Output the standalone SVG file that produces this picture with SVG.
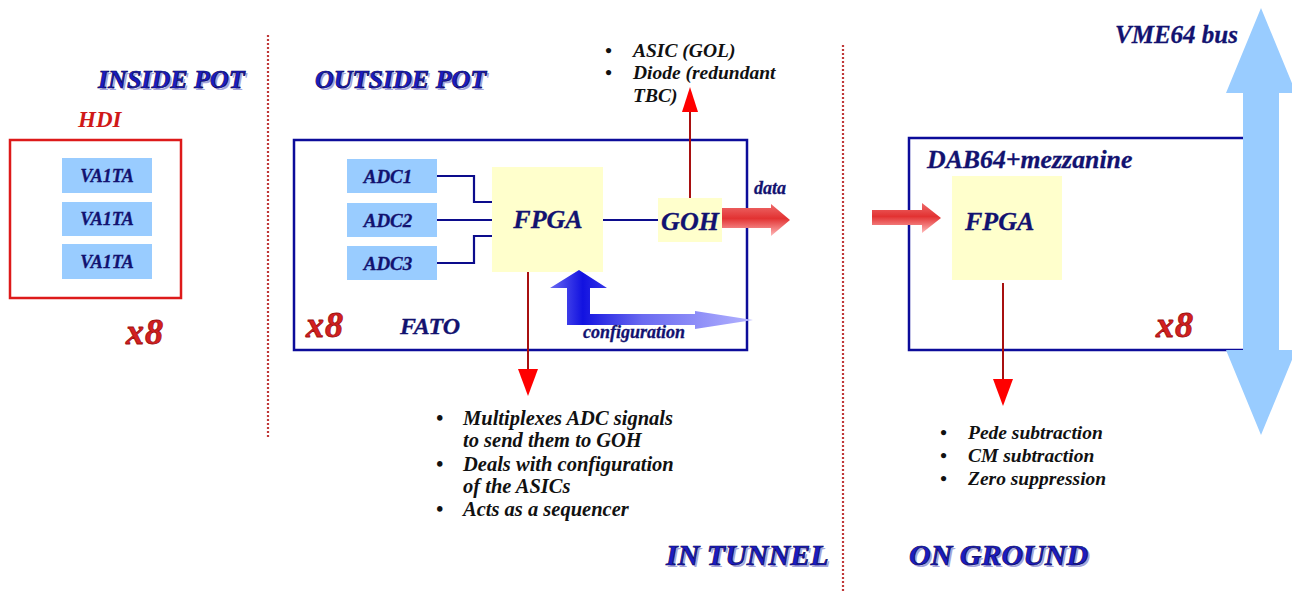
<svg xmlns="http://www.w3.org/2000/svg" width="1292" height="593" viewBox="0 0 1292 593">
  <defs>
    <style>
      text { font-family: 'Liberation Serif', 'Times New Roman', 'DejaVu Serif', serif; font-weight: bold; font-style: italic; }
      .head { font-size: 26px; fill: #1c1cc0; stroke: #06065a; stroke-width: 0.7; }
      .head-shadow { font-size: 26px; fill: #a4a4dc; }
      .big { font-size: 30px; }
      .navy { fill: #121270; stroke: #121270; stroke-width: 0.3; }
      .red { fill: #d01818; }
      .times { fill: #d42020; stroke: #a01010; stroke-width: 0.8; font-size: 36px; letter-spacing: 1px; }
      .bullet { font-size: 19.5px; fill: #111111; }
      .bullet.wide { font-size: 20.5px; }
      .chip { fill: #99ccff; }
      .fpga { fill: #ffffcc; }
      .frame { fill: none; stroke: #0c0c9a; stroke-width: 2.5; }
      .wire { fill: none; stroke: #0c0c8c; stroke-width: 2.2; }
      .redline { stroke: #a81010; stroke-width: 2; }
      .redhead { fill: #ff0000; }
      .divider { stroke: #c03838; stroke-width: 2.2; stroke-dasharray: 2 2; }
    </style>
    <linearGradient id="dataGrad" x1="0" y1="0" x2="0" y2="1">
      <stop offset="0" stop-color="#ee6a6a"/>
      <stop offset="0.45" stop-color="#e23232"/>
      <stop offset="1" stop-color="#ffb8b8"/>
    </linearGradient>
    <linearGradient id="cfgGrad" x1="550" y1="0" x2="755" y2="0" gradientUnits="userSpaceOnUse">
      <stop offset="0" stop-color="#6a6af2"/>
      <stop offset="0.16" stop-color="#1212e0"/>
      <stop offset="0.45" stop-color="#6a6af0"/>
      <stop offset="1" stop-color="#b4b4ff"/>
    </linearGradient>
  </defs>

  <rect width="1292" height="593" fill="#ffffff"/>

  <!-- zone dividers -->
  <g id="dividers">
    <line class="divider" x1="268" y1="35" x2="268" y2="437"/>
    <line class="divider" x1="843" y1="45" x2="843" y2="593"/>
  </g>

  <!-- zone headings -->
  <g id="headings">
    <text class="head-shadow" x="100" y="90">INSIDE POT</text>
    <text class="head" x="98" y="88">INSIDE POT</text>
    <text class="head-shadow" x="317" y="90">OUTSIDE POT</text>
    <text class="head" x="315" y="88">OUTSIDE POT</text>
    <text class="head-shadow big" x="668" y="567">IN TUNNEL</text>
    <text class="head big" x="666" y="565">IN TUNNEL</text>
    <text class="head-shadow big" x="911" y="567">ON GROUND</text>
    <text class="head big" x="909" y="565">ON GROUND</text>
  </g>

  <!-- HDI hybrid with three VA1TA chips -->
  <g id="hdi">
    <text class="red" x="78" y="127" font-size="23">HDI</text>
    <rect x="10" y="140" width="171" height="158" fill="none" stroke="#dd1a1a" stroke-width="2.5"/>
    <rect class="chip" x="62" y="158" width="90" height="35"/>
    <rect class="chip" x="62" y="202" width="90" height="34"/>
    <rect class="chip" x="62" y="244" width="90" height="35"/>
    <g class="navy" font-size="18" text-anchor="middle">
      <text x="107" y="182">VA1TA</text>
      <text x="107" y="225">VA1TA</text>
      <text x="107" y="268">VA1TA</text>
    </g>
    <text class="times" x="126" y="344">x8</text>
  </g>

  <!-- FATO board -->
  <g id="fato">
    <rect class="frame" x="294" y="140" width="453" height="210"/>
    <rect class="chip" x="347" y="159" width="90" height="34"/>
    <rect class="chip" x="347" y="203" width="90" height="34"/>
    <rect class="chip" x="347" y="246" width="90" height="34"/>
    <g class="navy" font-size="19" text-anchor="middle">
      <text x="388" y="183">ADC1</text>
      <text x="388" y="227">ADC2</text>
      <text x="388" y="270">ADC3</text>
    </g>
    <rect class="fpga" x="492" y="167" width="111" height="105"/>
    <text class="navy" x="548" y="228" font-size="26" text-anchor="middle">FPGA</text>
    <rect class="fpga" x="658" y="198" width="64" height="44"/>
    <text class="navy" x="690" y="230" font-size="26" text-anchor="middle">GOH</text>
    <text class="times" x="306" y="337">x8</text>
    <text class="navy" x="400" y="334" font-size="24">FATO</text>
  </g>

  <!-- DAB64 receiver board -->
  <g id="dab">
    <rect class="frame" x="909" y="138" width="350" height="212"/>
    <text class="navy" x="927" y="168" font-size="25.8">DAB64+mezzanine</text>
    <rect class="fpga" x="952" y="176" width="110" height="104"/>
    <text class="navy" x="965" y="230" font-size="26">FPGA</text>
    <text class="times" x="1156" y="337">x8</text>
  </g>

  <!-- VME64 bus -->
  <g id="vme">
    <polygon fill="#99ccff" points="1261,8 1296,93 1279,93 1279,350 1296,350 1261,435 1226,350 1243,350 1243,93 1226,93"/>
    <text class="navy" x="1115" y="43" font-size="25">VME64 bus</text>
  </g>

  <!-- connectors -->
  <g id="connectors">
    <!-- ADC outputs into the FATO FPGA -->
    <polyline class="wire" points="437,176 474,176 474,202 492,202"/>
    <line class="wire" x1="437" y1="220" x2="492" y2="220"/>
    <polyline class="wire" points="437,263 474,263 474,236 492,236"/>
    <!-- FPGA to GOH -->
    <line class="wire" x1="603" y1="220" x2="658" y2="220"/>

    <!-- GOH up to its component list -->
    <line class="redline" x1="690" y1="198" x2="690" y2="110"/>
    <polygon class="redhead" points="690,87 698,112 682,112"/>
    <!-- FATO FPGA down to its task list -->
    <line class="redline" x1="528" y1="272" x2="528" y2="371"/>
    <polygon class="redhead" points="518,369 538,369 528,396"/>
    <!-- DAB FPGA down to its task list -->
    <line class="redline" x1="1003" y1="283" x2="1003" y2="381"/>
    <polygon class="redhead" points="993,379 1013,379 1003,406"/>

    <!-- optical data link -->
    <polygon fill="url(#dataGrad)" points="722,208 771,208 771,204 790,220 771,236 771,228 722,228"/>
    <polygon fill="url(#dataGrad)" points="872,210 922,210 922,203 941,218 922,233 922,225 872,225"/>

    <!-- configuration path -->
    <polygon fill="url(#cfgGrad)" points="579,270 607,288 590,288 590,314 695,314 695,311 753,320 695,329 695,325 567,325 567,288 550,288"/>
  </g>

  <!-- labels and bullet lists -->
  <g id="labels">
    <text class="navy" x="754" y="194" font-size="18">data</text>
    <text class="navy" x="583" y="338" font-size="18">configuration</text>

    <g class="bullet">
      <text x="605" y="57">•</text>
      <text x="633" y="57">ASIC (GOL)</text>
      <text x="605" y="79">•</text>
      <text x="633" y="79">Diode (redundant</text>
      <text x="633" y="102">TBC)</text>
    </g>

    <g class="bullet wide">
      <text x="436" y="425">•</text>
      <text x="463" y="425">Multiplexes ADC signals</text>
      <text x="463" y="447">to send them to GOH</text>
      <text x="436" y="471">•</text>
      <text x="463" y="471">Deals with configuration</text>
      <text x="463" y="493">of the ASICs</text>
      <text x="436" y="516">•</text>
      <text x="463" y="516">Acts as a sequencer</text>
    </g>

    <g class="bullet">
      <text x="940" y="439">•</text>
      <text x="968" y="439">Pede subtraction</text>
      <text x="940" y="462">•</text>
      <text x="968" y="462">CM subtraction</text>
      <text x="940" y="485">•</text>
      <text x="968" y="485">Zero suppression</text>
    </g>
  </g>
</svg>
